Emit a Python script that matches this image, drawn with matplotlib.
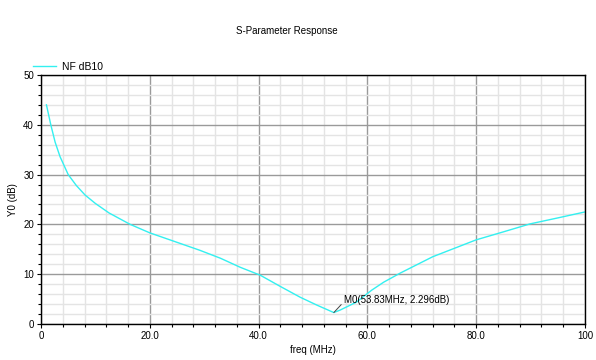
import numpy as np
import matplotlib
matplotlib.use("Agg")
import matplotlib.pyplot as plt
from matplotlib.ticker import MultipleLocator

# NF dB10 curve
freq_mhz = [1.0, 1.8, 2.6, 3.5, 5.0, 6.5, 8.1, 10.0, 12.5, 16.4, 20.0, 25.0, 29.2,
            33.0, 36.6, 40.3, 43.9, 47.6, 50.7, 53.83, 55.0, 58.0, 60.8, 63.0,
            66.0, 72.0, 76.0, 80.0, 85.0, 89.9, 95.0, 100.0]
nf_db = [44.0, 40.0, 36.5, 33.6, 30.0, 27.8, 25.9, 24.2, 22.3, 20.0, 18.3, 16.4, 14.8,
         13.2, 11.4, 9.8, 7.6, 5.4, 3.8, 2.296, 2.8, 4.4, 6.8, 8.4,
         10.2, 13.5, 15.2, 16.9, 18.5, 20.1, 21.3, 22.5]
marker_x = 53.83
marker_y = 2.296
x_ticks = [0, 20, 40, 60, 80, 100]
x_labels = ["0", "20.0", "40.0", "60.0", "80.0", "100"]
y_ticks = [0, 10, 20, 30, 40, 50]

plt.rcParams['font.family'] = ['Liberation Sans', 'DejaVu Sans']
plt.rcParams['font.size'] = 7

fig = plt.figure(figsize=(5.96, 3.6), dpi=100)
ax = fig.add_axes([0.0688, 0.1, 0.9127, 0.6917])

ax.plot(freq_mhz, nf_db, color="#33f0f0", lw=1.0, label="NF dB10")

ax.set_xlim(0, 100)
ax.set_ylim(0, 50)
ax.set_xticks(x_ticks)
ax.set_xticklabels(x_labels)
ax.set_yticks(y_ticks)
ax.xaxis.set_minor_locator(MultipleLocator(4))
ax.yaxis.set_minor_locator(MultipleLocator(2))
ax.grid(which="major", color="#9a9a9a", lw=1.0)
ax.grid(which="minor", color="#e4e4e4", lw=1.0)
ax.set_axisbelow(True)
ax.tick_params(which="major", length=3, width=0.8, pad=2)
ax.tick_params(which="minor", length=2, width=0.8)
for s in ax.spines.values():
    s.set_color("black")
    s.set_linewidth(1.0)

ax.set_xlabel("freq (MHz)", labelpad=3)
ax.set_ylabel("Y0 (dB)", labelpad=4)

# marker annotation
ax.annotate("M0(53.83MHz, 2.296dB)", xy=(marker_x, marker_y),
            xytext=(55.7, 4.9), fontsize=7, ha="left", va="center",
            arrowprops=dict(arrowstyle="-", color="#444444", lw=0.7,
                            shrinkA=0, shrinkB=0, relpos=(0.0, 0.3)))

fig.text(0.482, 0.915, "S-Parameter Response", ha="center", va="center", fontsize=7)
fig.legend(loc="upper left", bbox_to_anchor=(0.04, 0.855), frameon=False,
           handlelength=2.2, handletextpad=0.6, fontsize=7.5)

fig.savefig("out.png", dpi=100)
